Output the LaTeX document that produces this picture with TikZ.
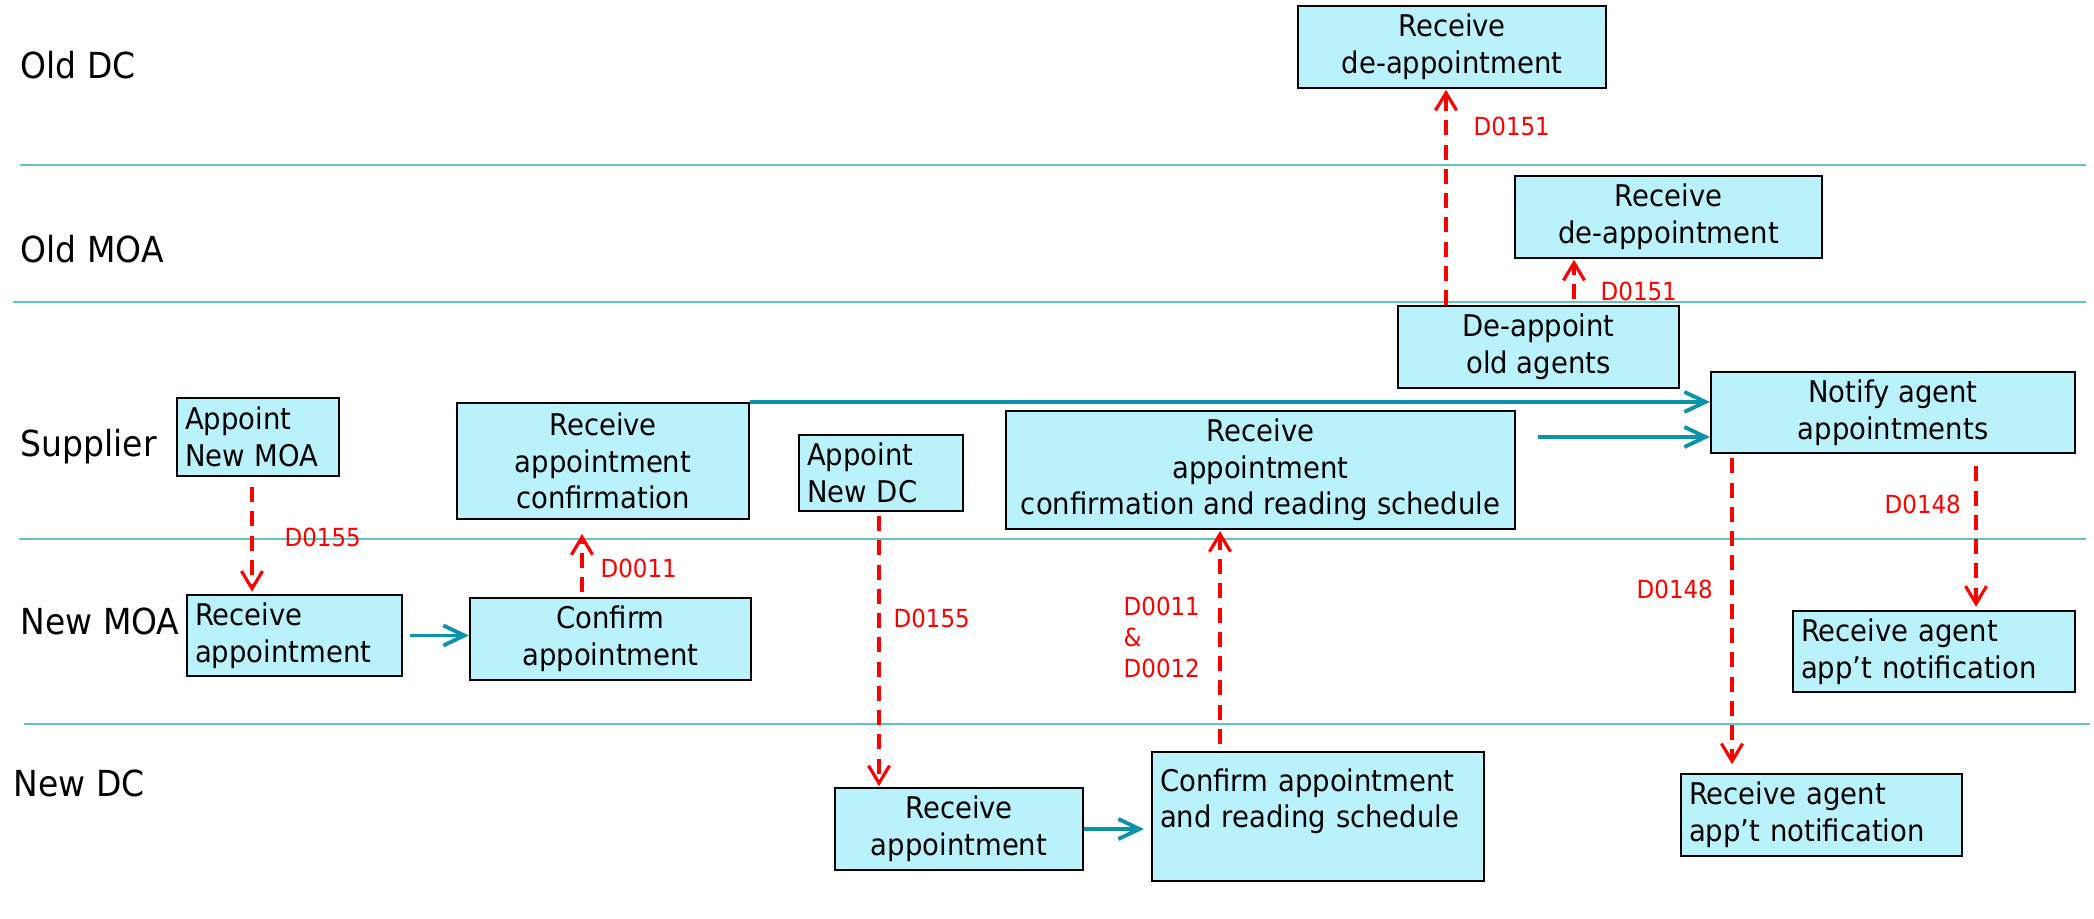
\documentclass[tikz,border=0pt]{standalone}
\usepackage{fontspec}
\setmainfont[FakeStretch=0.92]{DejaVu Sans}
\usetikzlibrary{arrows.meta,calc}
\definecolor{boxfill}{RGB}{186,242,252}
\definecolor{flowcol}{RGB}{10,147,171}
\definecolor{lanecol}{RGB}{102,196,192}
\tikzset{>=latex,
  box/.style={draw, line width=0.6pt, fill=boxfill, inner sep=0.08cm, align=center,
    font=\fontsize{8.5}{10.4}\selectfont},
  lbox/.style={box, align=left},
  lane/.style={draw=lanecol, line width=0.8pt},
  lanename/.style={anchor=base west, inner sep=0pt, font=\fontsize{10.2}{12}\selectfont},
  flow/.style={draw=flowcol, line width=1.1pt, -{Straight Barb[length=6pt,width=5.7pt]}},
  msg/.style={draw=red, line width=0.9pt, dash pattern=on 4.3pt off 2.6pt,
    -{Straight Barb[length=5pt,width=6pt]}},
  dcode/.style={anchor=west, inner sep=0pt, text=red, align=left,
    font=\fontsize{7.1}{8.8}\selectfont}
}

\begin{document}
\begin{tikzpicture}
    \useasboundingbox (0,0) rectangle (20.94,9.18);
    \draw [lane] (0.20,7.53) -- (20.86,7.53);
    \draw [lane] (0.13,6.16) -- (20.86,6.16);
    \draw [lane] (0.19,3.79) -- (20.86,3.79);
    \draw [lane] (0.24,1.94) -- (20.90,1.94);

    \node [lanename] (olddc) at (0.20,8.39) {Old DC};
    \node [lanename] (oldmoa) at (0.20,6.55) {Old MOA};
    \node [lanename] (supplier) at (0.20,4.61) {Supplier};
    \node [lanename] (newmoa) at (0.20,2.83) {New MOA};
    \node [lanename] (newdc) at (0.13,1.22) {New DC};

    \node [box, minimum width=3.08cm, minimum height=0.78cm] (olddcrec) at (14.52,8.71) {Receive\\de-appointment};
    \node [box, minimum width=3.07cm, minimum height=0.78cm] (oldmoarec) at (16.685,7.01) {Receive\\de-appointment};
    \node [box, minimum width=2.81cm, minimum height=0.78cm] (deappoint) at (15.385,5.71) {De-appoint\\old agents};
    \node [box, minimum width=3.64cm, minimum height=0.75cm] (notify) at (18.93,5.055) {Notify agent\\appointments};
    \node [lbox, text width=2.66cm, minimum height=0.75cm] (moanotif) at (19.34,2.665) {Receive agent\\app’t notification};
    \node [lbox, text width=2.65cm, minimum height=0.76cm] (dcnotif) at (18.215,1.03) {Receive agent\\app’t notification};
    \node [lbox, text width=1.46cm, minimum height=0.78cm] (appmoa) at (2.58,4.81) {Appoint\\New MOA};
    \node [box, minimum width=2.92cm, minimum height=1.16cm] (recconf) at (6.03,4.57) {Receive\\appointment\\confirmation};
    \node [lbox, text width=1.99cm, minimum height=0.77cm] (moarec) at (2.945,2.825) {Receive\\appointment};
    \node [box, minimum width=2.81cm, minimum height=0.78cm] (moaconf) at (6.105,2.79) {Confirm\\appointment};
    \node [lbox, text width=1.48cm, minimum height=0.76cm] (appdc) at (8.81,4.45) {Appoint\\New DC};
    \node [box, minimum width=5.09cm, minimum height=1.14cm] (recsched) at (12.605,4.48) {Receive\\appointment\\confirmation and reading schedule};
    \node [box, minimum width=2.48cm, minimum height=0.76cm] (dcrec) at (9.59,0.89) {Receive\\appointment};
    \node [lbox, text width=3.16cm, minimum height=1.29cm] (dcconf) at (13.18,1.015) {Confirm appointment\\and reading schedule\\ \mbox{}};

    \draw [flow, shorten <=0.07cm] (moarec.east) -- (moarec.east -| moaconf.west);
    \draw [flow, shorten >=0.07cm] (dcrec.east) -- (dcrec.east -| dcconf.west);
    \draw [flow] (recconf.north east) -- (recconf.north east -| notify.west);
    \coordinate (notifyin) at (15.38,4.81);
    \draw [flow] (notifyin) -- (notifyin -| notify.west);

    \draw [msg, shorten <=0.1cm, shorten >=0.02cm] ([xshift=-0.06cm]appmoa.south) -- ([xshift=-0.06cm]appmoa.south |- moarec.north);
    \draw [msg, shorten <=0.05cm, shorten >=0.14cm] ([xshift=-0.285cm]moaconf.north) -- ([xshift=-0.285cm]moaconf.north |- recconf.south);
    \draw [msg, shorten <=0.04cm, shorten >=0.01cm] ([xshift=-0.02cm]appdc.south) -- ([xshift=-0.02cm]appdc.south |- dcrec.north);
    \draw [msg, shorten <=0.07cm, shorten >=0.01cm] ([xshift=-0.98cm]dcconf.north) -- ([xshift=-0.98cm]dcconf.north |- recsched.south);
    \draw [msg, shorten >=0.01cm] ([xshift=-0.925cm]deappoint.north) -- ([xshift=-0.925cm]deappoint.north |- olddcrec.south);
    \draw [msg, shorten <=0.06cm, shorten >=0.01cm] ([xshift=0.355cm]deappoint.north) -- ([xshift=0.355cm]deappoint.north |- oldmoarec.south);
    \draw [msg, shorten <=0.04cm, shorten >=0.09cm] ([xshift=-1.61cm]notify.south) -- ([xshift=-1.61cm]notify.south |- dcnotif.north);
    \draw [msg, shorten <=0.12cm, shorten >=0.03cm] ([xshift=0.83cm]notify.south) -- ([xshift=0.83cm]notify.south |- moanotif.north);

    \node [dcode] (dmoaapp) at (2.84,3.81) {D0155};
    \node [dcode] (dmoaconf) at (6.00,3.50) {D0011};
    \node [dcode] (ddcapp) at (8.93,3.00) {D0155};
    \node [dcode] (ddcconf) at (11.23,2.81) {D0011\\\&\\D0012};
    \node [dcode] (ddcdeapp) at (14.73,7.92) {D0151};
    \node [dcode] (dmoadeapp) at (16.00,6.27) {D0151};
    \node [dcode] (ddcnotif) at (16.36,3.29) {D0148};
    \node [dcode] (dmoanotif) at (18.84,4.14) {D0148};
  \end{tikzpicture}
\end{document}
